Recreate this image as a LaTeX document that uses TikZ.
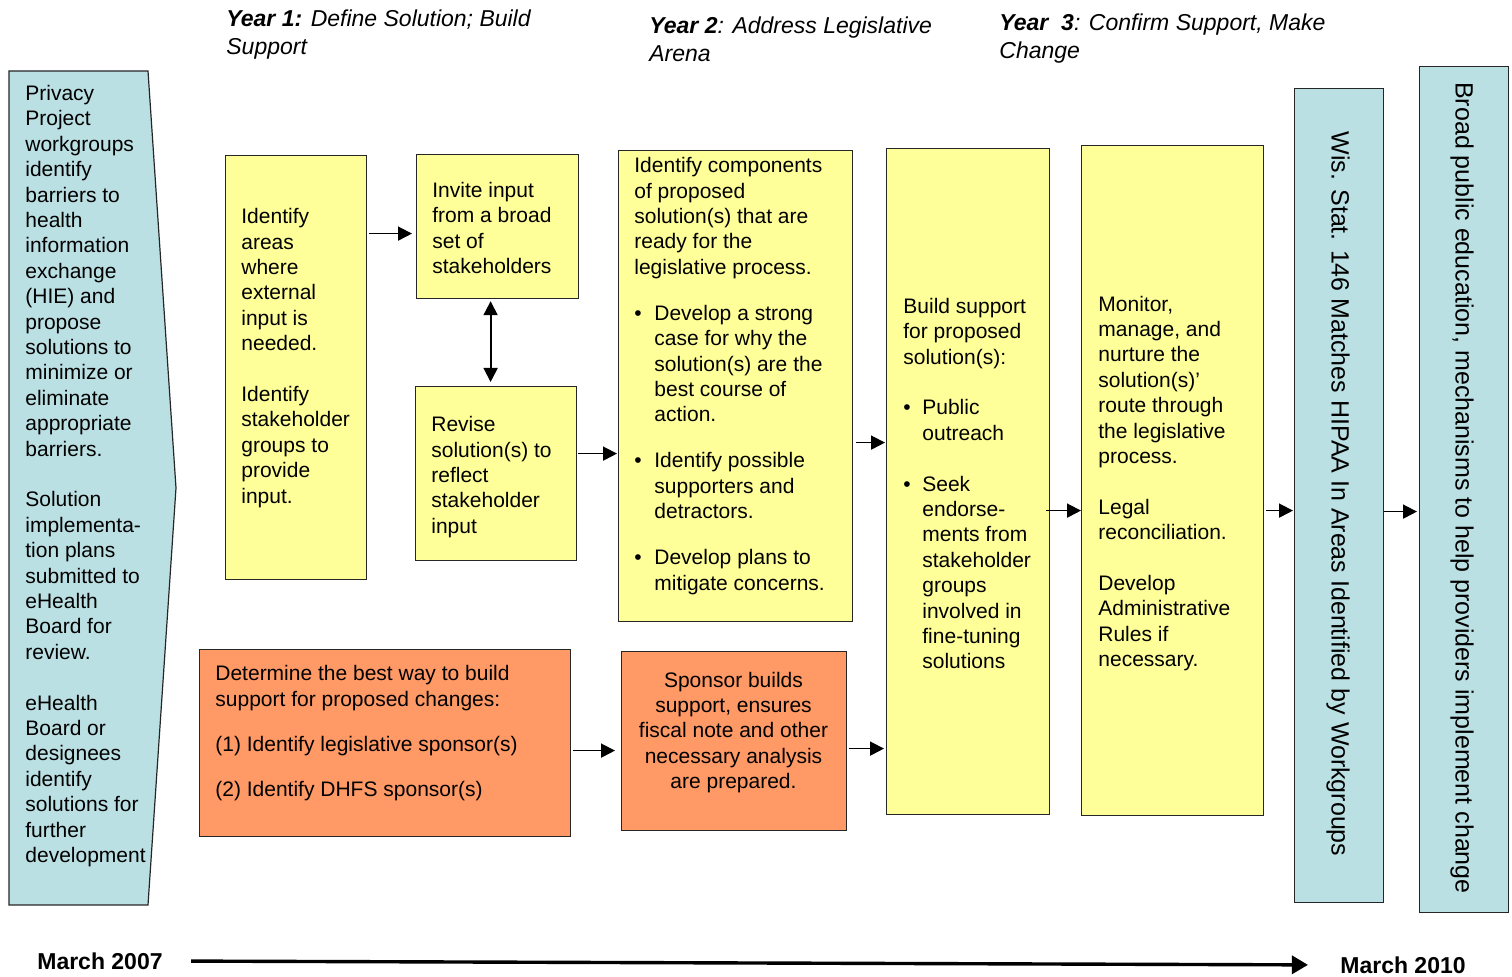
\documentclass[tikz,border=0pt]{standalone}
\usepackage{fontspec}
\setmainfont{Liberation Sans}
\usetikzlibrary{arrows.meta,calc}
\definecolor{lblue}{HTML}{BBE0E3}
\definecolor{lyel}{HTML}{FFFF99}
\definecolor{lorange}{HTML}{FF9966}
\newcommand{\bulD}{\makebox[10pt][l]{•}}
\newcommand{\indD}{\hspace*{10pt}}
\newcommand{\bulE}{\makebox[9.5pt][l]{•}}
\newcommand{\indE}{\hspace*{9.5pt}}
\tikzset{
  box/.style={draw=black!85, line width=0.6pt, inner sep=0pt, anchor=north west},
  yel/.style={box, fill=lyel},
  blu/.style={box, fill=lblue},
  ora/.style={box, fill=lorange},
  txt/.style={inner sep=0pt, align=left, anchor=west, font=\fontsize{10.5}{12.7}\selectfont},
  ttl/.style={inner sep=0pt, align=left, anchor=west, font=\fontsize{11.5}{14}\selectfont\itshape},
  vtxt/.style={inner sep=0pt, rotate=-90, font=\fontsize{12.5}{15}\selectfont},
  date/.style={inner sep=0pt, font=\fontsize{11.5}{14}\selectfont\bfseries},
  arr/.style={-{Triangle[length=7pt,width=7pt]}, line width=0.9pt},
  darr/.style={{Triangle[length=7pt,width=7pt]}-{Triangle[length=7pt,width=7pt]}, line width=0.9pt}
}
\begin{document}
\begin{tikzpicture}[x=0.5pt,y=-0.5pt]
\useasboundingbox (0,0) rectangle (1512,977);

% titles
\node[ttl] (T1) at (226,35) {\textbf{Year 1:} Define Solution; Build\\Support};
\node[ttl] (T2) at (649,39) {\textbf{Year 2}: Address Legislative\\Arena};
\node[ttl] (T3) at (999,39) {\textbf{Year\ \ 3}: Confirm Support, Make\\Change};

% left arrow shape
\draw[draw=black!85, line width=0.6pt, fill=lblue] (9,71) -- (148,71) -- (176,488) -- (148,905) -- (9,905) -- cycle;
\node[txt] (L) at (25,476) {Privacy\\Project\\workgroups\\identify\\barriers to\\health\\information\\exchange\\(HIE) and\\propose\\solutions to\\minimize or\\eliminate\\appropriate\\barriers.\\[12.7pt]Solution\\implementa-\\tion plans\\submitted to\\eHealth\\Board for\\review.\\[12.7pt]eHealth\\Board or\\designees\\identify\\solutions for\\further\\development};

% yellow boxes
\node[yel, minimum width=70.5pt, minimum height=212pt] (A) at (225,155) {};
\node[txt] (At) at (241,358) {Identify\\areas\\where\\external\\input is\\needed.\\[12.7pt]Identify\\stakeholder\\groups to\\provide\\input.};

\node[yel, minimum width=81pt, minimum height=72pt] (B) at (416,154) {};
\node[txt] (Bt) at (432,228) {Invite input\\from a broad\\set of\\stakeholders};

\node[yel, minimum width=80.5pt, minimum height=87pt] (C) at (415,386) {};
\node[txt] (Ct) at (431,477) {Revise\\solution(s) to\\reflect\\stakeholder\\input};

\node[yel, minimum width=117pt, minimum height=235.5pt] (D) at (618,150) {};
\node[txt] (Dt) at (634,376) {Identify components\\of proposed\\solution(s) that are\\ready for the\\legislative process.\\[10.3pt]\bulD Develop a strong\\\indD case for why the\\\indD solution(s) are the\\\indD best course of\\\indD action.\\[10.3pt]\bulD Identify possible\\\indD supporters and\\\indD detractors.\\[10.3pt]\bulD Develop plans to\\\indD mitigate concerns.};

\node[yel, minimum width=81.5pt, minimum height=333pt] (E) at (886,148) {};
\node[txt] (Et) at (903,483.5) {Build support\\for proposed\\solution(s):\\[12.7pt]\bulE Public\\\indE outreach\\[12.7pt]\bulE Seek\\\indE endorse-\\\indE ments from\\\indE stakeholder\\\indE groups\\\indE involved in\\\indE fine-tuning\\\indE solutions};

\node[yel, minimum width=91pt, minimum height=335pt] (F) at (1081,145) {};
\node[txt] (Ft) at (1098,483.5) {Monitor,\\manage, and\\nurture the\\solution(s)’\\route through\\the legislative\\process.\\[12.7pt]Legal\\reconciliation.\\[12.7pt]Develop\\Administrative\\Rules if\\necessary.};

% blue vertical boxes
\node[blu, minimum width=44.5pt, minimum height=407pt] (G) at (1294,88) {};
\node[vtxt] (Gt) at (1338,494) {Wis. Stat. 146 Matches HIPAA In Areas Identified by Workgroups};
\node[blu, minimum width=44.5pt, minimum height=423pt] (H) at (1419,66) {};
\node[vtxt] (Ht) at (1462,488) {Broad public education, mechanisms to help providers implement change};

% orange boxes
\node[ora, minimum width=185.5pt, minimum height=93.5pt] (O1) at (199,649) {};
\node[txt] (O1t) at (215,733) {Determine the best way to build\\support for proposed changes:\\[9.8pt](1) Identify legislative sponsor(s)\\[9.8pt](2) Identify DHFS sponsor(s)};
\node[ora, minimum width=112.5pt, minimum height=89.5pt] (O2) at (621,651) {};
\node[txt, align=center, anchor=center] (O2t) at (733.5,732.5) {Sponsor builds\\support, ensures\\fiscal note and other\\necessary analysis\\are prepared.};

% connectors
\draw[arr, shorten <=1pt, shorten >=2pt] ([yshift=-3.5pt]A.east |- B.west) -- ([yshift=-3.5pt]B.west);
\draw[darr, shorten <=1pt, shorten >=2pt] ([xshift=-3.5pt]B.south) -- ([xshift=-3.5pt]B.south |- C.north);
\draw[arr, shorten <=0.5pt, shorten >=0.5pt] ([yshift=10pt]C.east) -- ([yshift=10pt]C.east -| D.west);
\draw[arr, shorten <=1.5pt, shorten >=0.5pt] ([yshift=-28.25pt]D.east) -- ([yshift=-28.25pt]D.east -| E.west);
\draw[arr, shorten <=-2pt, shorten >=0pt] ([yshift=-14.5pt]E.east) -- ([yshift=-14.5pt]E.east -| F.west);
\draw[arr, shorten <=1pt, shorten >=0.5pt] ([yshift=-15pt]F.east) -- ([yshift=-15pt]F.east -| G.west);
\draw[arr, shorten <=0pt, shorten >=1pt] ([yshift=-8pt]G.east) -- ([yshift=-8pt]G.east -| H.west);
\draw[arr, shorten <=1pt, shorten >=3pt] ([yshift=-3.75pt]O1.east) -- ([yshift=-3.75pt]O1.east -| O2.west);
\draw[arr, shorten <=1pt, shorten >=1pt] ([yshift=-3.75pt]O2.east) -- ([yshift=-3.75pt]O2.east -| E.west);

% timeline
\node[date] (M1) at (100,961) {March 2007};
\node[date] (M2) at (1403,965) {March 2010};
\draw[-{Triangle[length=8pt,width=9pt]}, line width=1.7pt, shorten <=14pt, shorten >=16pt] (M1.east) -- (M2.west);
\end{tikzpicture}
\end{document}
